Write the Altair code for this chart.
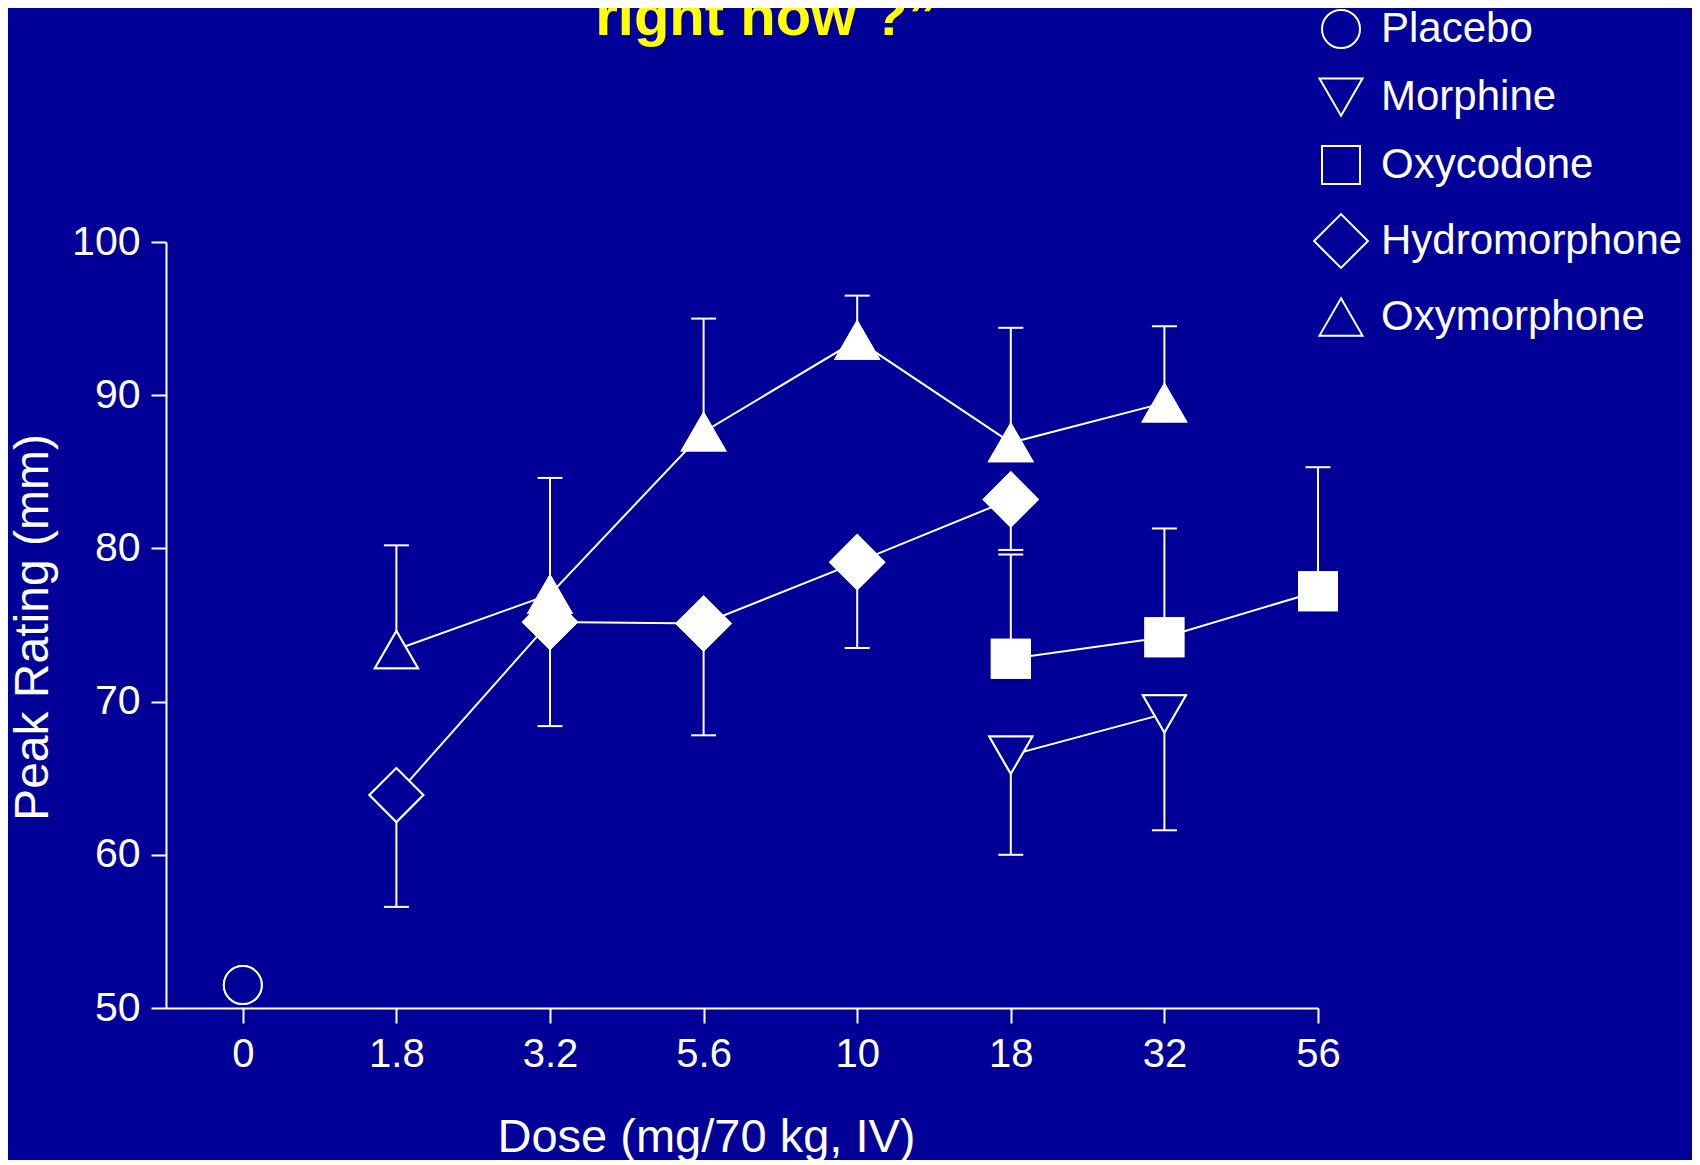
import altair as alt
import pandas as pd

BG = "#000099"
FONT = "Liberation Sans"

title_text = ["right now ?\u201d"]
doses = ["0", "1.8", "3.2", "5.6", "10", "18", "32", "56"]
drugs = ["Placebo", "Morphine", "Oxycodone", "Hydromorphone", "Oxymorphone"]
shapes = ["circle", "triangle-down", "square", "diamond", "triangle-up"]
sizes = [1444, 1850, 1444, 2900, 1850]

placebo_dose = ["0"]
placebo_mean = [51.5]
placebo_err = [None]
placebo_filled = [False]

morphine_dose = ["18", "32"]
morphine_mean = [66.5, 69.2]
morphine_err = [60.0, 61.6]
morphine_filled = [False, False]

oxycodone_dose = ["18", "32", "56"]
oxycodone_mean = [72.8, 74.2, 77.2]
oxycodone_err = [79.6, 81.3, 85.3]
oxycodone_filled = [True, True, True]

hydromorphone_dose = ["1.8", "3.2", "5.6", "10", "18"]
hydromorphone_mean = [63.9, 75.2, 75.1, 79.1, 83.2]
hydromorphone_err = [56.6, 68.4, 67.8, 73.5, 79.9]
hydromorphone_filled = [False, True, True, True, True]

oxymorphone_dose = ["1.8", "3.2", "5.6", "10", "18", "32"]
oxymorphone_mean = [73.4, 77.0, 87.6, 93.6, 86.9, 89.5]
oxymorphone_err = [80.2, 84.6, 95.0, 96.5, 94.4, 94.5]
oxymorphone_filled = [False, True, True, True, True, True]

series = [
    ("Placebo", placebo_dose, placebo_mean, placebo_err, placebo_filled),
    ("Morphine", morphine_dose, morphine_mean, morphine_err, morphine_filled),
    ("Oxycodone", oxycodone_dose, oxycodone_mean, oxycodone_err, oxycodone_filled),
    ("Hydromorphone", hydromorphone_dose, hydromorphone_mean, hydromorphone_err, hydromorphone_filled),
    ("Oxymorphone", oxymorphone_dose, oxymorphone_mean, oxymorphone_err, oxymorphone_filled),
]

rows = []
for name, ds, ms, es, fs in series:
    for d, m, e, f in zip(ds, ms, es, fs):
        rows.append({"drug": name, "dose": d, "order": doses.index(d),
                     "mean": m, "err": e, "filled": f})
df = pd.DataFrame(rows)

x_enc = alt.X(
    "dose:O",
    scale=alt.Scale(type="point", domain=doses, padding=0.25, align=1),
    axis=alt.Axis(
        title="Dose (mg/70 kg, IV)", labelAngle=0, labelFontSize=40,
        labelColor="white", labelFont=FONT, labelPadding=11,
        tickColor="white", tickSize=15, tickWidth=2,
        domainColor="white", domainWidth=2, grid=False,
        titleFontSize=47, titleColor="white", titleFont=FONT,
        titleFontWeight="normal", titleX=540, titleY=143,
        titleAlign="center", titleBaseline="alphabetic",
    ),
)
y_scale = alt.Scale(domain=[50, 100], nice=False, zero=False)
y_axis = alt.Axis(
    title="Peak Rating (mm)", values=[50, 60, 70, 80, 90, 100],
    labelFontSize=41, labelColor="white", labelFont=FONT, labelPadding=11,
    tickColor="white", tickSize=15, tickWidth=2,
    domainColor="white", domainWidth=2, grid=False,
    titleFontSize=48, titleColor="white", titleFont=FONT,
    titleFontWeight="normal", titleAngle=270, titleX=-119, titleY=385,
    titleAlign="center", titleBaseline="alphabetic",
)

base = alt.Chart(df)
y_mean = alt.Y("mean:Q", scale=y_scale, axis=y_axis)

bars = base.transform_filter("isValid(datum.err)").mark_rule(
    color="white", strokeWidth=2
).encode(x=x_enc, y=y_mean, y2="err:Q")

caps = base.transform_filter("isValid(datum.err)").mark_tick(
    color="white", size=25, thickness=2, opacity=1
).encode(x=x_enc, y=alt.Y("err:Q", scale=y_scale, axis=y_axis))

lines = base.mark_line(color="white", strokeWidth=2).encode(
    x=x_enc, y=y_mean, detail="drug:N", order="order:Q",
)

legend = alt.Legend(
    title=None, orient="none", legendX=1147, legendY=-234,
    labelFontSize=42, labelColor="white", labelFont=FONT, labelLimit=500,
    rowPadding=22, labelOffset=12, padding=0,
    symbolStrokeColor="white", symbolStrokeWidth=2,
)

shape_scale = alt.Scale(domain=drugs, range=shapes)
size_scale = alt.Scale(type="ordinal", domain=drugs, range=sizes)

# open outline layer (carries the legend)
outline = base.mark_point(filled=False, color="white", strokeWidth=2, opacity=1).encode(
    x=x_enc, y=y_mean,
    shape=alt.Shape("drug:N", scale=shape_scale, legend=legend),
    size=alt.Size("drug:N", scale=size_scale, legend=legend),
)

points = base.mark_point(filled=True, opacity=1, stroke="white", strokeWidth=2).encode(
    x=x_enc, y=y_mean,
    shape=alt.Shape("drug:N", scale=shape_scale, legend=None),
    size=alt.Size("drug:N", scale=size_scale, legend=None),
    fill=alt.condition("!datum.filled", alt.value(BG), alt.value("white")),
)

title = alt.Chart(pd.DataFrame({"t": title_text})).mark_text(
    color="#FFFF00", fontSize=58, fontWeight="bold", font=FONT,
    align="center", baseline="alphabetic",
).encode(text="t:N", x=alt.value(600), y=alt.value(-207))

chart = alt.layer(bars, caps, lines, outline, points, title).properties(
    width=1152,
    height=766,
    autosize=alt.AutoSizeParams(type="none"),
    padding={"left": 158, "top": 234, "right": 374, "bottom": 152},
).configure(
    background=BG, font=FONT
).configure_view(strokeWidth=0)

chart.save("out.html", embed_options={"renderer": "svg", "actions": False})
